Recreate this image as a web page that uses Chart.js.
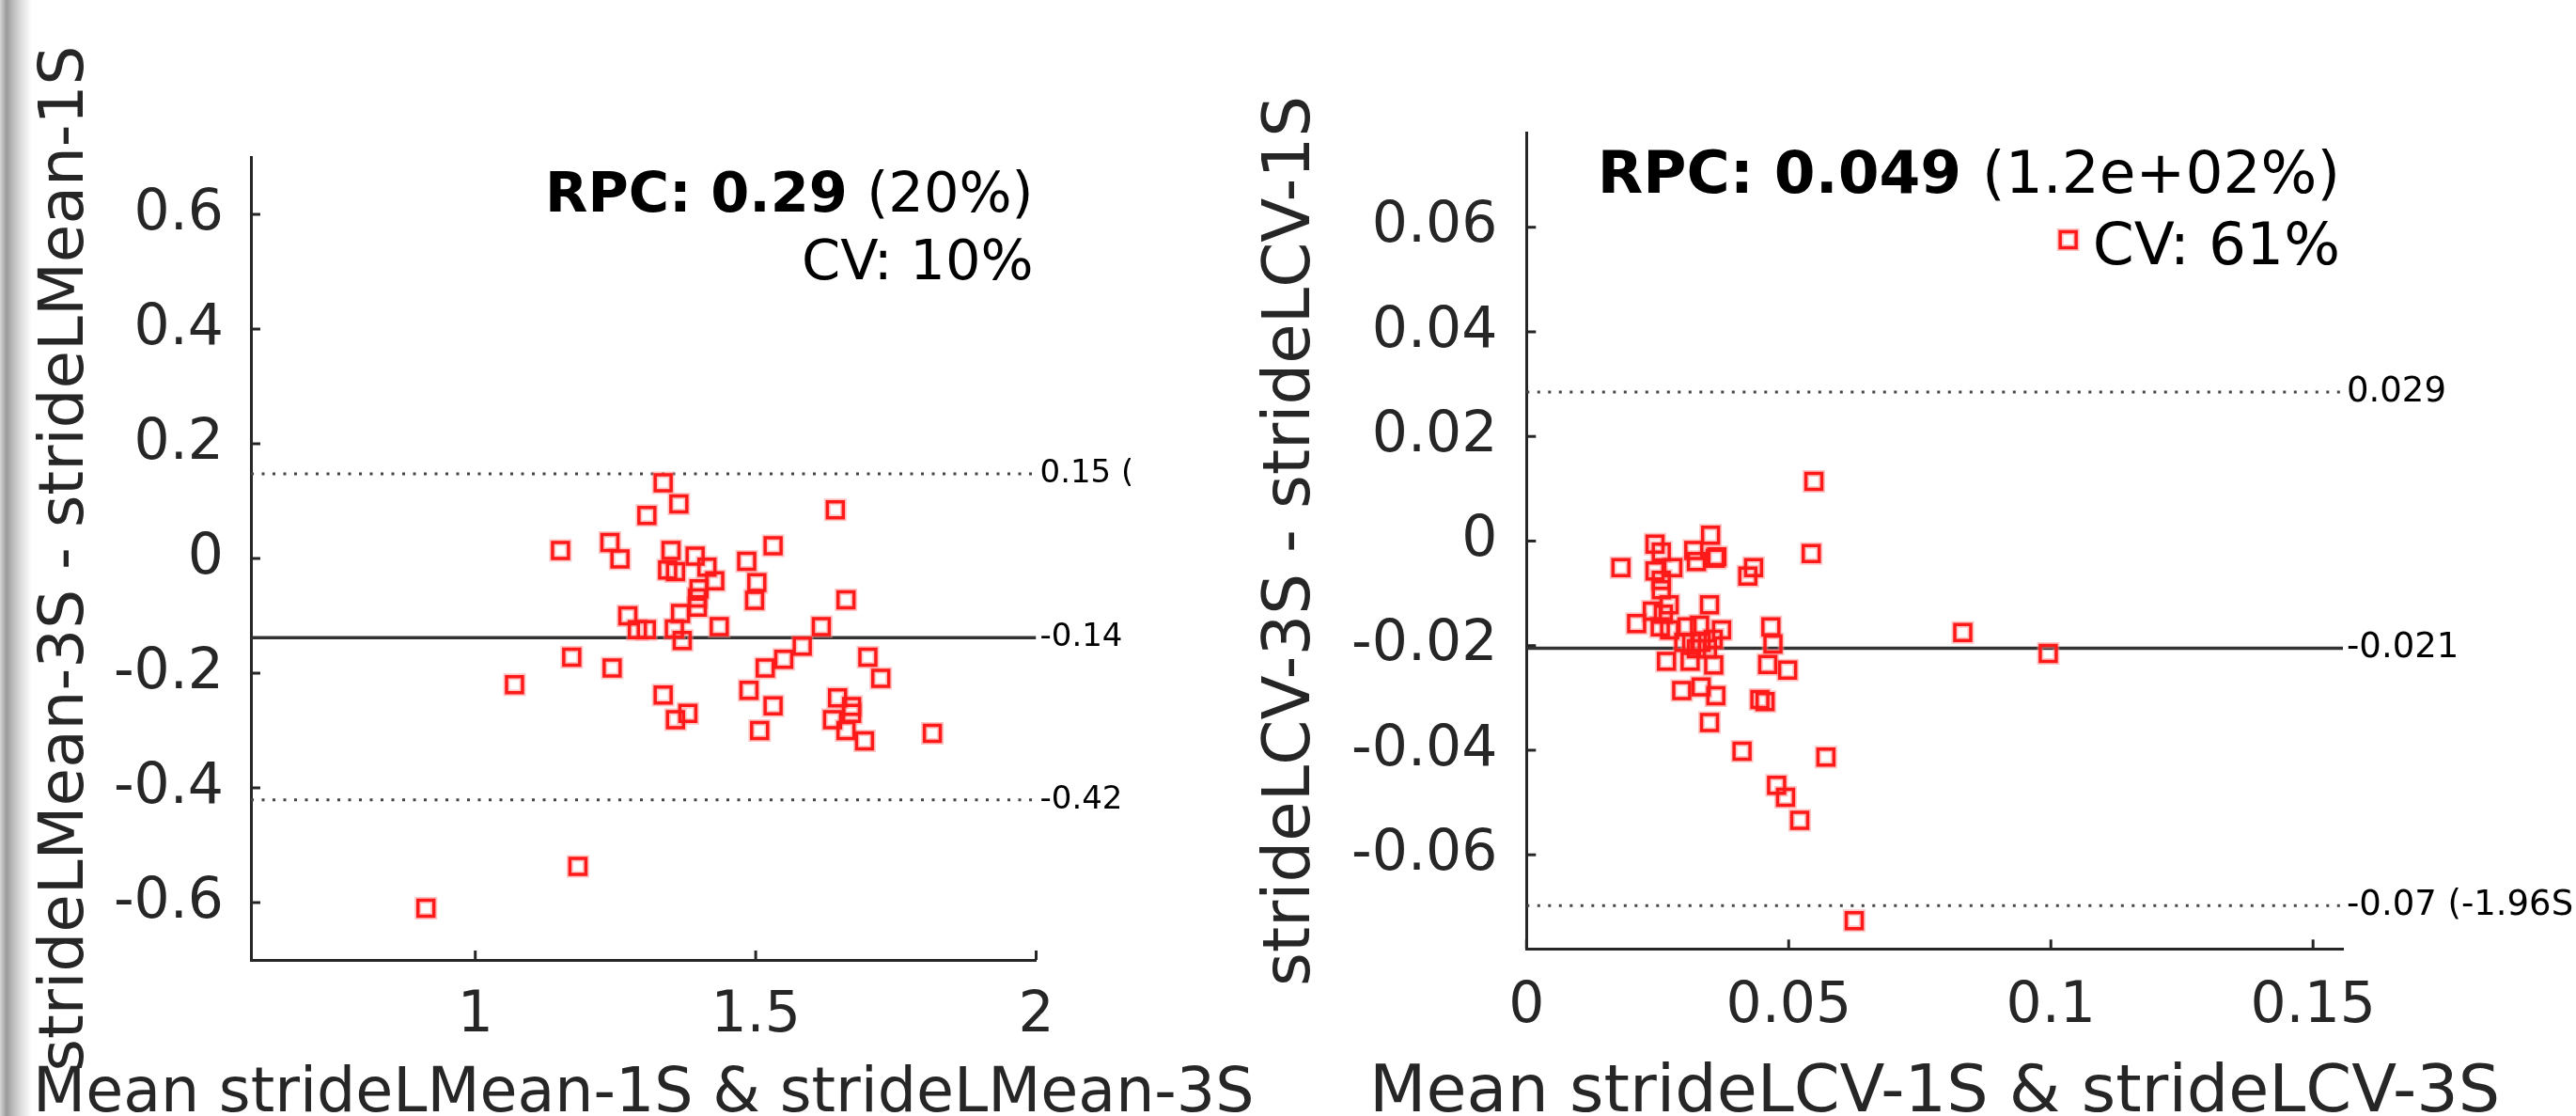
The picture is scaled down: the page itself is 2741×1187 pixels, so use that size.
<!DOCTYPE html>
<html>
<head>
<meta charset="utf-8">
<script src="https://cdn.jsdelivr.net/npm/chart.js@4.4.1/dist/chart.umd.min.js"></script>
<style>
    html, body { margin: 0; padding: 0; background: #fff; }
    body { width: 2741px; height: 1187px; position: relative; overflow: hidden; }
    #panelL { position: absolute; left: 0; top: 0; }
    #panelR { position: absolute; left: 1203px; top: 0; }
    #edge {
        position: absolute; left: 0; top: 0; width: 34px; height: 1187px;
        background: linear-gradient(to right, #d6d6d6 0px, #9a9a9a 7px, #b8b8b8 13px, #dcdcdc 22px, #f4f4f4 30px, #ffffff 34px);
    }
</style>
</head>
<body>
<canvas id="panelL" width="1420" height="1187"></canvas>
<canvas id="panelR" width="1538" height="1187"></canvas>
<div id="edge"></div>
<script>
// stride length: mean of both sessions vs difference
var meanL = [1.335, 1.363, 1.306, 1.152, 1.240, 1.258, 1.349, 1.392, 1.343, 1.357,
             1.413, 1.427, 1.399, 1.396, 1.396, 1.366, 1.272, 1.289, 1.305, 1.355,
             1.369, 1.435, 1.484, 1.531, 1.642, 1.502, 1.498, 1.661, 1.617, 1.583,
             1.550, 1.517, 1.700, 1.723, 1.488, 1.531, 1.507, 1.646, 1.671, 1.671,
             1.637, 1.661, 1.694, 1.815, 1.172, 1.244, 1.070, 1.335, 1.357, 1.379,
             1.183, 0.912];
var diffL = [0.132, 0.095, 0.075, 0.014, 0.028, -0.001, 0.014, 0.004, -0.020, -0.023,
             -0.015, -0.039, -0.053, -0.069, -0.085, -0.096, -0.100, -0.124, -0.124, -0.123,
             -0.143, -0.119, -0.005, 0.022, 0.085, -0.042, -0.073, -0.072, -0.119, -0.153,
             -0.176, -0.191, -0.172, -0.209, -0.230, -0.257, -0.300, -0.243, -0.258, -0.270,
             -0.281, -0.300, -0.318, -0.305, -0.172, -0.191, -0.220, -0.238, -0.281, -0.270,
             -0.537, -0.610];

// stride length CV
var meanR = [0.0548, 0.0351, 0.0245, 0.0257, 0.0319, 0.0324, 0.0363, 0.0360, 0.0543, 0.0180,
             0.0245, 0.0279, 0.0433, 0.0422, 0.0257, 0.0257, 0.0272, 0.0349, 0.0240, 0.0261,
             0.0210, 0.0255, 0.0273, 0.0306, 0.0330, 0.0372, 0.0466, 0.0315, 0.0333, 0.0356,
             0.0470, 0.0267, 0.0312, 0.0357, 0.0460, 0.0498, 0.0296, 0.0333, 0.0361, 0.0445,
             0.0455, 0.0349, 0.0300, 0.0324, 0.0345, 0.0411, 0.0571, 0.0477, 0.0494, 0.0521,
             0.0625, 0.0832, 0.0995, 0.1033];
var diffR = [0.0114, 0.0011, -0.0006, -0.0021, -0.0018, -0.0039, -0.0030, -0.0033, -0.0024, -0.0051,
             -0.0057, -0.0051, -0.0051, -0.0067, -0.0075, -0.0093, -0.0122, -0.0122, -0.0134, -0.0140,
             -0.0158, -0.0164, -0.0170, -0.0164, -0.0161, -0.0170, -0.0164, -0.0194, -0.0194, -0.0188,
             -0.0197, -0.0230, -0.0230, -0.0237, -0.0236, -0.0247, -0.0286, -0.0279, -0.0296, -0.0303,
             -0.0307, -0.0347, -0.0194, -0.0206, -0.0206, -0.0402, -0.0413, -0.0467, -0.0490, -0.0534,
             -0.0726, -0.0175, -0.0215, 0.0576];

// limits of agreement: upper, mean, lower
var limitsL = [0.1476, -0.138, -0.421];
var limitLabelsL = ['0.15 (+1.96SD)', '-0.14', '-0.42'];
var limitsR = [0.0285, -0.0205, -0.0697];
var limitLabelsR = ['0.029', '-0.021', '-0.07 (-1.96SD)'];

var xTicksL = [1, 1.5, 2];
var xTickLabelsL = ['1', '1.5', '2'];
var yTicksL = [-0.6, -0.4, -0.2, 0, 0.2, 0.4, 0.6];
var yTickLabelsL = ['-0.6', '-0.4', '-0.2', '0', '0.2', '0.4', '0.6'];
var xTicksR = [0, 0.05, 0.1, 0.15];
var xTickLabelsR = ['0', '0.05', '0.1', '0.15'];
var yTicksR = [-0.06, -0.04, -0.02, 0, 0.02, 0.04, 0.06];
var yTickLabelsR = ['-0.06', '-0.04', '-0.02', '0', '0.02', '0.04', '0.06'];

var rpcL = ['RPC: 0.29 ', '(20%)'];
var cvL = 'CV: 10%';
var rpcR = ['RPC: 0.049 ', '(1.2e+02%)'];
var cvR = 'CV: 61%';

var FONT = '"DejaVu Sans", sans-serif';
var INK = '#262626';

function puntos(xs, ys) {
    return xs.map(function (x, i) { return { x: x, y: ys[i] }; });
}

function linea(v, xmin, xmax) {
    return [{ x: xmin, y: v }, { x: xmax, y: v }];
}

function overlay(s) {
    return {
        id: 'overlay',
        afterDraw: function (chart) {
            var ctx = chart.ctx;
            var a = chart.chartArea;
            var sx = chart.scales.x;
            var sy = chart.scales.y;
            ctx.save();

            // tick marks pointing inward
            ctx.strokeStyle = INK;
            ctx.lineWidth = 3;
            s.xTicks.forEach(function (v) {
                var px = sx.getPixelForValue(v);
                ctx.beginPath();
                ctx.moveTo(px, a.bottom);
                ctx.lineTo(px, a.bottom - 10);
                ctx.stroke();
            });
            s.yTicks.forEach(function (v) {
                var py = sy.getPixelForValue(v);
                ctx.beginPath();
                ctx.moveTo(a.left, py);
                ctx.lineTo(a.left + 10, py);
                ctx.stroke();
            });

            // limit labels (cut where the next panel begins)
            ctx.save();
            ctx.beginPath();
            ctx.rect(0, 0, s.clipX, chart.height);
            ctx.clip();
            ctx.fillStyle = '#000';
            ctx.font = s.smallSize + 'px ' + FONT;
            ctx.textAlign = 'left';
            ctx.textBaseline = 'middle';
            s.limits.forEach(function (v, i) {
                ctx.fillText(s.limitLabels[i], a.right + 4, sy.getPixelForValue(v));
            });
            ctx.restore();

            // RPC / CV
            ctx.fillStyle = '#000';
            ctx.textAlign = 'left';
            ctx.textBaseline = 'alphabetic';
            var right = a.right - 3;
            ctx.font = 'bold ' + s.noteSize + 'px ' + FONT;
            var wb = ctx.measureText(s.rpc[0]).width;
            ctx.font = s.noteSize + 'px ' + FONT;
            var wn = ctx.measureText(s.rpc[1]).width;
            ctx.font = 'bold ' + s.noteSize + 'px ' + FONT;
            ctx.fillText(s.rpc[0], right - wb - wn, a.top + s.rpcDy);
            ctx.font = s.noteSize + 'px ' + FONT;
            ctx.fillText(s.rpc[1], right - wn, a.top + s.rpcDy);
            ctx.textAlign = 'right';
            ctx.fillText(s.cv, right, a.top + s.cvDy);

            // axis titles
            ctx.fillStyle = INK;
            ctx.textAlign = 'center';
            ctx.font = s.xTitleSize + 'px ' + FONT;
            ctx.fillText(s.xTitle, (a.left + a.right) / 2, 1182);
            ctx.font = s.yTitleSize + 'px ' + FONT;
            ctx.translate(s.yTitleX, (a.top + a.bottom) / 2);
            ctx.rotate(-Math.PI / 2);
            ctx.fillText(s.yTitle, 0, 0);
            ctx.restore();
        }
    };
}

function crearPanel(id, s) {
    var ctx = document.getElementById(id);
    var datasets = [
        {
            type: 'scatter',
            data: puntos(s.xs, s.ys),
            pointStyle: 'rect',
            pointRadius: 12,
            pointBorderWidth: 3.5,
            pointBorderColor: '#ff1a1a',
            pointBackgroundColor: 'rgba(0,0,0,0)'
        },
        {
            type: 'scatter',
            data: puntos(s.xs, s.ys),
            pointStyle: 'rect',
            pointRadius: 12,
            pointBorderWidth: 7,
            pointBorderColor: 'rgba(255,140,140,0.5)',
            pointBackgroundColor: 'rgba(0,0,0,0)'
        }
    ];
    s.limits.forEach(function (v, i) {
        datasets.push({
            type: 'line',
            data: linea(v, s.xmin, s.xmax),
            borderColor: i === 1 ? '#333333' : '#454545',
            borderWidth: i === 1 ? 3.5 : 3,
            borderDash: i === 1 ? [] : [3, 8.5],
            pointRadius: 0,
            fill: false
        });
    });

    return new Chart(ctx, {
        type: 'scatter',
        data: { datasets: datasets },
        options: {
            responsive: false,
            animation: false,
            events: [],
            layout: { padding: { left: 0, top: s.top, right: s.padRight, bottom: 0 } },
            plugins: { legend: { display: false }, tooltip: { enabled: false } },
            scales: {
                x: {
                    type: 'linear',
                    min: s.xmin,
                    max: s.xmax,
                    afterBuildTicks: function (axis) {
                        axis.ticks = s.xTicks.map(function (v) { return { value: v }; });
                    },
                    afterFit: function (axis) { axis.height = s.xAxisH; },
                    grid: { display: false, drawTicks: false },
                    border: { display: true, color: INK, width: 3 },
                    ticks: {
                        autoSkip: false,
                        maxRotation: 0,
                        padding: s.xPad,
                        color: INK,
                        font: { family: FONT, size: 60 },
                        callback: function (v, i) { return s.xLabels[i]; }
                    }
                },
                y: {
                    type: 'linear',
                    min: s.ymin,
                    max: s.ymax,
                    afterBuildTicks: function (axis) {
                        axis.ticks = s.yTicks.map(function (v) { return { value: v }; });
                    },
                    afterFit: function (axis) { axis.width = s.yAxisW; },
                    grid: { display: false, drawTicks: false },
                    border: { display: true, color: INK, width: 3 },
                    ticks: {
                        autoSkip: false,
                        padding: s.yPad,
                        color: INK,
                        font: { family: FONT, size: 60 },
                        callback: function (v, i) { return s.yLabels[i]; }
                    }
                }
            }
        },
        plugins: [overlay(s)]
    });
}

crearPanel('panelL', {
    xs: meanL, ys: diffL,
    xmin: 0.6, xmax: 2, ymin: -0.7, ymax: 0.7,
    xTicks: xTicksL, xLabels: xTickLabelsL, yTicks: yTicksL, yLabels: yTickLabelsL,
    limits: limitsL, limitLabels: limitLabelsL,
    rpc: rpcL, cv: cvL,
    top: 167, padRight: 317.5, xAxisH: 166, yAxisW: 267,
    xPad: 24, yPad: 29, clipX: 1203,
    smallSize: 34, noteSize: 59, rpcDy: 58, cvDy: 130,
    xTitle: 'Mean strideLMean-1S & strideLMean-3S', xTitleSize: 65,
    yTitle: 'strideLMean-3S - strideLMean-1S', yTitleSize: 66, yTitleX: 88
});

crearPanel('panelR', {
    xs: meanR, ys: diffR,
    xmin: 0, xmax: 0.1557, ymin: -0.078, ymax: 0.078,
    xTicks: xTicksR, xLabels: xTickLabelsR, yTicks: yTicksR, yLabels: yTickLabelsR,
    limits: limitsR, limitLabels: limitLabelsR,
    rpc: rpcR, cv: cvR,
    top: 141.6, padRight: 248, xAxisH: 177.7, yAxisW: 421.3,
    xPad: 26, yPad: 31, clipX: 1538,
    smallSize: 37, noteSize: 63, rpcDy: 63, cvDy: 139,
    xTitle: 'Mean strideLCV-1S & strideLCV-3S', xTitleSize: 70,
    yTitle: 'strideLCV-3S - strideLCV-1S', yTitleSize: 69, yTitleX: 190
});
</script>
</body>
</html>
